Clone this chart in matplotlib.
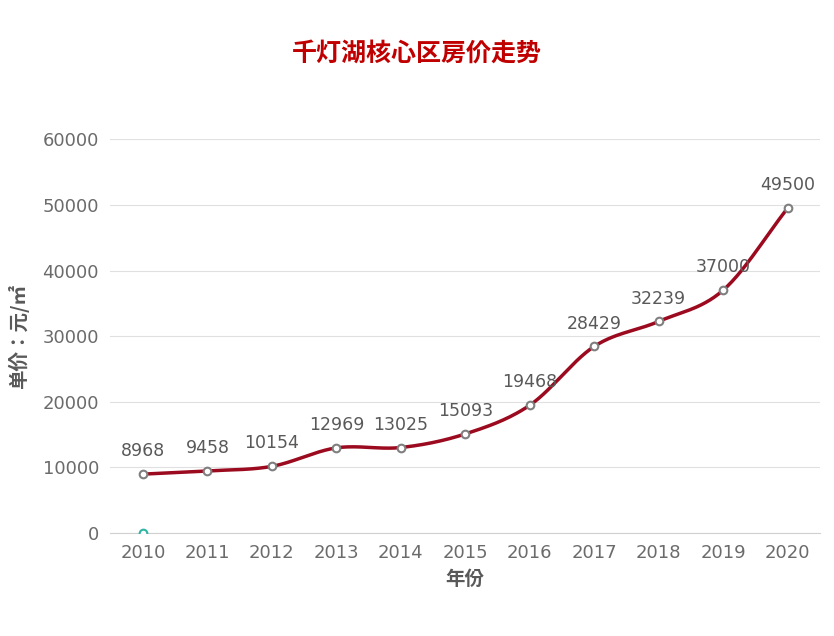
import matplotlib
matplotlib.use("Agg")
import matplotlib.pyplot as plt
from matplotlib import font_manager as fm
import numpy as np

years = [2010, 2011, 2012, 2013, 2014, 2015, 2016, 2017, 2018, 2019, 2020]
prices = [8968, 9458, 10154, 12969, 13025, 15093, 19468, 28429, 32239, 37000, 49500]
extra_year = [2010]
extra_val = [0]
yticks = [0, 10000, 20000, 30000, 40000, 50000, 60000]

cjk_file = None
for f in fm.findSystemFonts():
    n = f.lower()
    if "cjk" in n and ("bold" in n or cjk_file is None):
        cjk_file = f
        if "bold" in n and "sc" in n:
            break
def cjkprop(size):
    if cjk_file:
        return fm.FontProperties(fname=cjk_file, size=size, weight="bold")
    return fm.FontProperties(family="Noto Sans CJK SC", size=size, weight="bold")

def catmull(x, y, n=30):
    x = np.asarray(x, float); y = np.asarray(y, float)
    px = np.concatenate([[2*x[0]-x[1]], x, [2*x[-1]-x[-2]]])
    py = np.concatenate([[2*y[0]-y[1]], y, [2*y[-1]-y[-2]]])
    ox, oy = [], []
    for i in range(1, len(px)-2):
        t = np.linspace(0, 1, n)
        for arr, out in ((px, ox), (py, oy)):
            p0, p1, p2, p3 = arr[i-1], arr[i], arr[i+1], arr[i+2]
            out.extend(0.5*((2*p1) + (-p0+p2)*t + (2*p0-5*p1+4*p2-p3)*t**2 + (-p0+3*p1-3*p2+p3)*t**3))
    return ox, oy

fig = plt.figure(figsize=(8.34, 6.36), dpi=100)
ax = fig.add_axes([0.132, 0.162, 0.851, 0.619])
sx, sy = catmull(years, prices)
ax.plot(sx, sy, color="#9B0A1E", lw=2.5, zorder=2)
ax.plot(years, prices, "o", ms=5.5, mfc="white", mec="#7f7f7f", mew=1.5, zorder=3)
ax.plot(extra_year, extra_val, "o", ms=5.5, mfc="white", mec="#2FB5A5", mew=1.5, zorder=3)
for x, v in zip(years, prices):
    ax.annotate(str(v), (x, v), xytext=(0, 10), textcoords="offset points",
                ha="center", va="bottom", fontsize=12.5, color="#595959")
ax.set_xlim(2009.49, 2020.5)
ax.set_ylim(0, 60000)
ax.set_yticks(yticks)
ax.set_xticks(years)
ax.tick_params(length=0, labelsize=13, labelcolor="#6b6b6b", pad=8)
ax.grid(axis="y", color="#e0e0e0", lw=0.8)
ax.set_axisbelow(True)
for s in ["top", "right", "left"]:
    ax.spines[s].set_visible(False)
ax.spines["bottom"].set_color("#d0d0d0")
ax.set_xlabel("年份", fontproperties=cjkprop(14), color="#595959", labelpad=6)
ax.set_ylabel("单价：元/㎡", fontproperties=cjkprop(14), color="#595959", labelpad=10)
fig.text(0.5, 0.915, "千灯湖核心区房价走势", ha="center", va="center",
         fontproperties=cjkprop(18), color="#C00000")
fig.savefig("out.png", dpi=100)
